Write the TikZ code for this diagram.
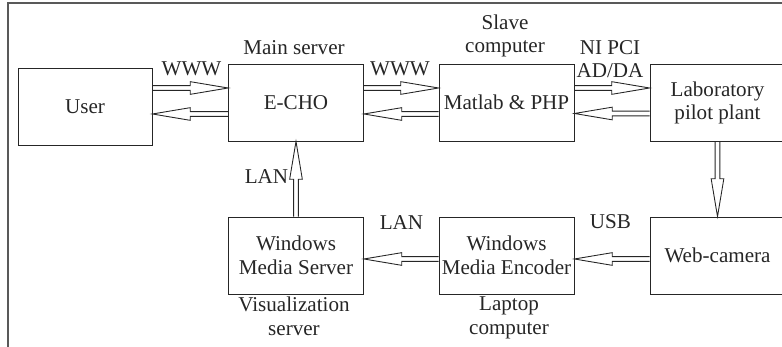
\documentclass[tikz,border=0pt]{standalone}
\usepackage{fontspec}
\setmainfont{Liberation Serif}
\usepackage{tikz}
\usetikzlibrary{calc}
\definecolor{DiagramInk}{HTML}{262626}
\definecolor{FrameShade}{gray}{0.35}
\newcommand\pipeshaft{1.35pt}
\newcommand\pipewing{3.6pt}
\newcommand\pipehead{21.5pt}
\tikzset{
  diagram/.style={x=0.02cm,y=-0.02cm,font=\fontsize{12}{13.5}\selectfont,text=DiagramInk},
  unit/.style={draw=DiagramInk,line width=0.5pt,inner sep=1pt,align=center,minimum width=2.7cm,minimum height=1.54cm},
  tag/.style={align=center,inner sep=0pt},
  pipe/.style={draw=DiagramInk,line width=0.5pt,to path={
    ($(\tikztotarget)!\pipehead!(\tikztostart)$) coordinate (ph)
    ($(\tikztostart)!\pipeshaft!90:(\tikztotarget)$)
      -- ($(ph)!\pipeshaft!-90:(\tikztostart)$)
      -- ($(ph)!\pipewing!-90:(\tikztostart)$)
      -- (\tikztotarget)
      -- ($(ph)!\pipewing!90:(\tikztostart)$)
      -- ($(ph)!\pipeshaft!90:(\tikztostart)$)
      -- ($(\tikztostart)!\pipeshaft!-90:(\tikztotarget)$)
  }},
}

\begin{document}
\begin{tikzpicture}[diagram]
  \useasboundingbox (0,0) rectangle (782,347);
  \clip (0,0) rectangle (782,347);
  \draw[FrameShade,line width=1pt] (8,360) |- (800,3);

  % top row
  \node[unit,minimum width=2.68cm] (user) at (85,106.5) {User};
  \node[unit] (echo) at (296,102.5) {E-CHO};
  \node[unit] (matlab) at (506.5,102.5) {Matlab \& PHP};
  \node[unit] (lab) at (717.5,103) {Laboratory\\pilot plant};

  % bottom row
  \node[unit] (wms) at (296,255.5) {Windows\\Media Server};
  \node[unit] (wme) at (506.5,255.5) {Windows\\Media Encoder};
  \node[unit] (cam) at (717.5,255.5) {Web-camera};

  % labels
  \node[tag] (mainlbl) at (294,47.5) {Main server};
  \node[tag] (slavelbl) at (505,36) {Slave\\computer};
  \node[tag] (www1) at (191.5,69) {WWW};
  \node[tag] (www2) at (400,69) {WWW};
  \node[tag] (nipci) at (610,59) {NI PCI\\AD/DA};
  \node[tag] (lan1) at (266.5,177) {LAN};
  \node[tag] (lan2) at (401.5,222.5) {LAN};
  \node[tag] (usb) at (610.5,222) {USB};
  \node[tag] (vislbl) at (294,316) {Visualization\\server};
  \node[tag] (laplbl) at (509,318) {Laptop\\computer};

  % hollow arrows
  \draw[pipe] ([yshift=0.37cm]user.east) to ([yshift=0.29cm]echo.west);
  \draw[pipe] ([yshift=-0.23cm]echo.west) to ([yshift=-0.15cm]user.east);
  \draw[pipe] ([yshift=0.29cm]echo.east) to ([yshift=0.29cm]matlab.west);
  \draw[pipe] ([yshift=-0.23cm]matlab.west) to ([yshift=-0.23cm]echo.east);
  \draw[pipe] ([yshift=0.29cm]matlab.east) to ([yshift=0.3cm]lab.west);
  \draw[pipe] ([yshift=-0.21cm]lab.west) to ([yshift=-0.22cm]matlab.east);
  \draw[pipe] (lab.south) to (cam.north);
  \draw[pipe] ([yshift=-0.07cm]cam.west) to ([yshift=-0.07cm]wme.east);
  \draw[pipe] ([yshift=-0.07cm]wme.west) to ([yshift=-0.07cm]wms.east);
  \draw[pipe] (wms.north) to (echo.south);
\end{tikzpicture}
\end{document}
